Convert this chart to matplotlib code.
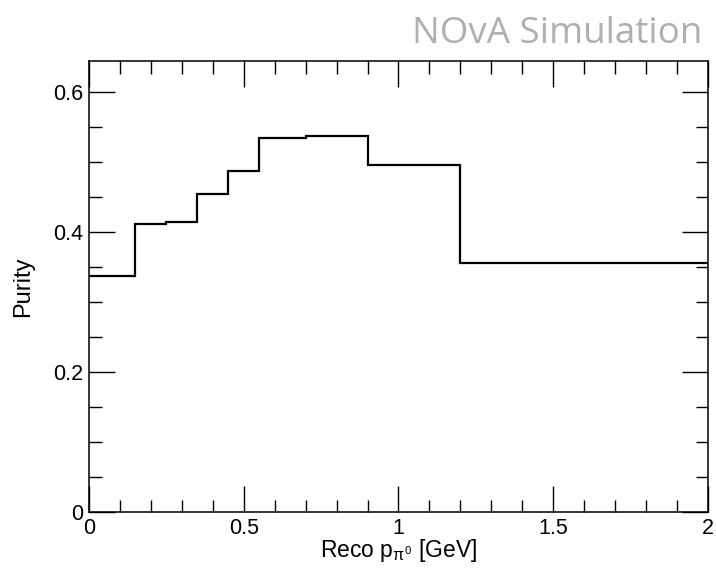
import numpy as np
import matplotlib
matplotlib.use("Agg")
import matplotlib.pyplot as plt
from matplotlib.ticker import MultipleLocator

# bin edges and purity per bin
bin_edges = [0.0, 0.15, 0.25, 0.35, 0.45, 0.55, 0.7, 0.9, 1.2, 2.0]
purity = [0.338, 0.412, 0.415, 0.455, 0.488, 0.535, 0.538, 0.496, 0.356]

x_label = r"Reco p$_{\pi^0}$ [GeV]"
y_label = "Purity"
tag = "NOvA Simulation"

plt.rcParams['font.family'] = ['Liberation Sans', 'DejaVu Sans']
plt.rcParams['mathtext.fontset'] = 'custom'
plt.rcParams['mathtext.rm'] = 'Liberation Sans'
plt.rcParams['mathtext.it'] = 'Liberation Sans'

fig = plt.figure(figsize=(7.16, 5.68), dpi=100)
ax = fig.add_axes([0.1243, 0.0986, 0.8645, 0.794])

ax.stairs(purity, bin_edges, baseline=None, color='black', linewidth=1.6)

ax.set_xlim(0, 2)
ax.set_ylim(0, 0.645)

ax.xaxis.set_major_locator(MultipleLocator(0.5))
ax.xaxis.set_minor_locator(MultipleLocator(0.1))
ax.yaxis.set_major_locator(MultipleLocator(0.2))
ax.yaxis.set_minor_locator(MultipleLocator(0.05))
ax.xaxis.set_major_formatter(plt.FuncFormatter(lambda v, p: f"{v:g}"))
ax.yaxis.set_major_formatter(plt.FuncFormatter(lambda v, p: f"{v:g}"))

ax.tick_params(which='both', direction='in', top=True, right=True,
               labelsize=15.5, width=1.0, colors='black')
ax.tick_params(which='major', length=19, pad=4)
ax.tick_params(which='minor', length=9)
for s in ax.spines.values():
    s.set_linewidth(1.1)

ax.set_xlabel(x_label, fontsize=16.5)
ax.xaxis.set_label_coords(0.5, -0.056)
ax.set_ylabel(y_label, fontsize=17)
ax.yaxis.set_label_coords(-0.088, 0.5)

fig.text(0.981, 0.924, tag, ha='right', va='baseline', fontsize=26.5,
         color='#b0b0b0', family=['Open Sans', 'DejaVu Sans'])

fig.savefig("out.png", dpi=100)
